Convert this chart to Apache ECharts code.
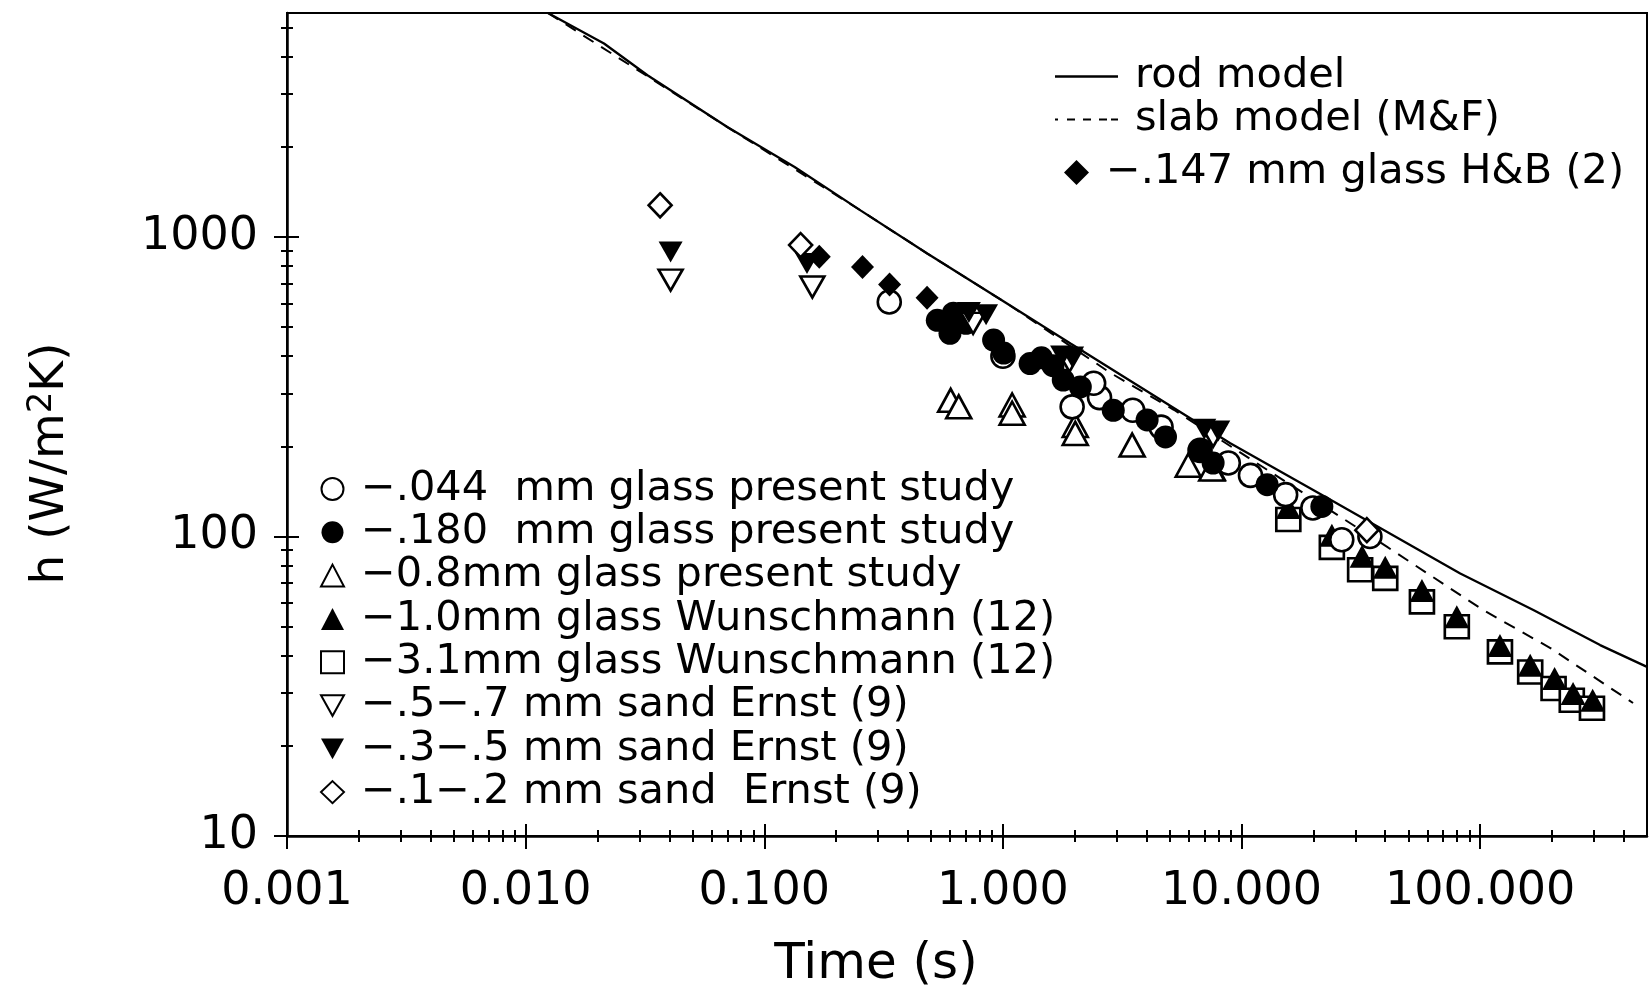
<!DOCTYPE html>
<html><head><meta charset="utf-8">
<script src="https://cdn.jsdelivr.net/npm/echarts@6/dist/echarts.min.js"></script>
<style>html,body{margin:0;padding:0;background:#fff}#c{width:1649px;height:990px}</style>
</head><body><div id="c"></div>
<script>
// ---------- data (time in s, h in W/m2K) ----------
const xMajorTicks = [0.001, 0.01, 0.1, 1, 10, 100];
const xMinorTicks = [0.002,0.003,0.004,0.005,0.006,0.007,0.008,0.009,
  0.02,0.03,0.04,0.05,0.06,0.07,0.08,0.09,
  0.2,0.3,0.4,0.5,0.6,0.7,0.8,0.9,
  2,3,4,5,6,7,8,9,
  20,30,40,50,60,70,80,90,
  200,300,400];
const yMajorTicks = [10, 100, 1000];
const yMinorTicks = [20,30,40,50,60,70,80,90,200,300,400,500,600,700,800,900,2000,3000,4000,5000];

const rodModel = [[0.0124,5600],[0.0213,4430],[0.0324,3470],[0.070,2330],[0.134,1714],[0.253,1228],
  [0.482,881],[1.04,600],[1.92,441],[8.97,205],[24.3,131],[82.5,75.3],[167,56.8],[318,43.4],[500,36.7]];
const slabModel = [[0.0124,5600],[0.070,2330],[0.253,1228],[0.482,881],[1.04,600],[2.82,352],[5.2,265],
  [40.6,92.5],[103,56.8],[196,42.5],[437,27.8]];

const hb147 = [[0.170,859],[0.258,795],[0.335,695],[0.481,627]];
const glass044 = [[0.334,607],[1.0,400],[1.95,271],[2.54,291],[2.4,325],[3.5,264],[4.6,232],[6.7,194],
  [8.8,176],[10.9,160],[15.3,138],[19.9,124.6],[26.3,97.5],[34.5,100]];
const glass180 = [[0.531,527],[0.62,557],[0.60,477],[0.70,515],[0.914,453],[1.007,410],[1.30,378],[1.45,395],
  [1.62,372],[1.79,333],[2.11,316],[2.9,264],[4.02,245],[4.8,215],[6.72,194],[7.6,176],[12.8,149],[21.7,126]];
const glass08 = [[0.604,285],[0.653,271],[1.093,275],[1.093,258],[2.01,235],[2.01,221],[3.48,202],[5.98,173],[7.5,168]];
const glass10 = [[7.7,167],[15.7,125],[23.9,101],[32,86],[40,79],[57,66],[79.8,54],[121,43.3],[162,37.2],[205,33.6],[245,29.9],[296,28.4]];
const glass31 = [[15.7,114],[23.9,92],[31.4,77.5],[40,72.5],[57,60.5],[79.8,50],[121,41.2],[162,35.3],[203,31.1],[242,28.4],[294,26.7]];
const sand57 = [[0.0405,718],[0.159,681],[0.75,515],[1.9,385],[7.6,216]];
const sand35 = [[0.0405,891],[0.151,816],[0.72,560],[0.85,550],[1.77,401],[1.95,398],[6.98,228],[7.99,225]];
const sand12 = [[0.0366,1277],[0.142,940],[33.5,105]];

const names = {
  rod: 'rod model', slab: 'slab model (M&F)', hb: '\u2212.147 mm glass H&B (2)',
  g044: '\u2212.044  mm glass present study', g180: '\u2212.180  mm glass present study',
  g08: '\u22120.8mm glass present study', g10: '\u22121.0mm glass Wunschmann (12)',
  g31: '\u22123.1mm glass Wunschmann (12)', s57: '\u2212.5\u2212.7 mm sand Ernst (9)',
  s35: '\u2212.3\u2212.5 mm sand Ernst (9)', s12: '\u2212.1\u2212.2 mm sand  Ernst (9)'
};

// ---------- styling ----------
const FONT = 'DejaVu Sans';
const X_MIN = 0.001, X_MAX = 500, Y_MIN = 10, Y_MAX = 5600;
const INV_TRI = 'path://M0,0L20,0L10,18Z';
const SOLID_LINE_ICON = 'path://M0,0h63v2.4h-63z';
const DASH_LINE_ICON = 'path://M0,0h3v2h-3z M12,0h8v2h-8z M28,0h8v2h-8z M44,0h8v2h-8z M56,0h7v2h-7z';
const hollow = {color:'#fff', borderColor:'#000', borderWidth:2.6, opacity:1};
const solid = {color:'#000', borderColor:'#000', borderWidth:0, opacity:1};

function xAxisDef(ticks, len, inside, main) {
  return {
    type:'log', logBase:10, min:X_MIN, max:X_MAX, position:'bottom', gridIndex:0,
    splitLine:{show:false},
    axisLine:{show:!!main, lineStyle:{color:'#000', width:2.5}},
    axisTick:{show:true, inside:inside, length:len, customValues:ticks, lineStyle:{color:'#000', width:2}},
    axisLabel:main ? {show:true, customValues:xMajorTicks, margin:33, color:'#000',
      fontFamily:FONT, fontSize:46, formatter:v => Number(v).toFixed(3)} : {show:false},
    name: main ? 'Time (s)' : '', nameLocation:'middle', nameGap:104,
    nameTextStyle:{fontFamily:FONT, fontSize:50, color:'#000', padding:[0,182,0,0]}
  };
}
function yAxisDef(ticks, len, inside, main) {
  return {
    type:'log', logBase:10, min:Y_MIN, max:Y_MAX, position:'left', gridIndex:0,
    splitLine:{show:false},
    axisLine:{show:!!main, lineStyle:{color:'#000', width:2.5}},
    axisTick:{show:true, inside:inside, length:len, customValues:ticks, lineStyle:{color:'#000', width:2}},
    axisLabel:main ? {show:true, customValues:yMajorTicks, margin:29, color:'#000',
      fontFamily:FONT, fontSize:46, formatter:v => String(Math.round(v))} : {show:false},
    name: main ? '{n|h (W/m}{s|2}{n|K)}' : '', nameLocation:'middle', nameGap:210, nameRotate:90,
    nameTextStyle:{color:'#000', padding:[0,78,0,0], rich:{
      n:{fontFamily:FONT, fontSize:47, color:'#000', lineHeight:52},
      s:{fontFamily:FONT, fontSize:34, color:'#000', verticalAlign:'top', lineHeight:34}
    }}
  };
}

function scatter(name, data, symbol, size, style) {
  return {type:'scatter', name:name, data:data, symbol:symbol, symbolSize:size,
    itemStyle:style, xAxisIndex:0, yAxisIndex:0, z:3, emphasis:{disabled:true}};
}

const chart = echarts.init(document.getElementById('c'), null, {renderer:'canvas'});
const legendTextTop = {fontFamily:FONT, fontSize:41.5, color:'#000', lineHeight:43, padding:[0,0,0,12]};
const legendTextLow = {fontFamily:FONT, fontSize:41.5, color:'#000', lineHeight:42, padding:[0,0,0,12]};
chart.setOption({
  animation:false,
  backgroundColor:'#fff',
  grid:{left:287, right:2, top:13, bottom:154, show:true, borderColor:'#000', borderWidth:2,
    containLabel:false, outerBoundsMode:'none'},
  xAxis:[
    xAxisDef(xMajorTicks, 13, false, true),
    xAxisDef(xMajorTicks, 12, true, false),
    xAxisDef(xMinorTicks, 6, false, false),
    xAxisDef(xMinorTicks, 6, true, false)
  ],
  yAxis:[
    yAxisDef(yMajorTicks, 13, false, true),
    yAxisDef(yMajorTicks, 12, true, false),
    yAxisDef(yMinorTicks, 6, false, false),
    yAxisDef(yMinorTicks, 6, true, false)
  ],
  legend:[
    {data:[{name:names.rod, icon:SOLID_LINE_ICON, itemStyle:{color:'#000', opacity:1}},
           {name:names.slab, icon:DASH_LINE_ICON, itemStyle:{color:'#000', opacity:1}}],
      orient:'vertical', left:1055, top:55, padding:0,
      itemWidth:63, itemHeight:3, itemGap:0, selectedMode:false, textStyle:legendTextTop},
    {data:[names.hb], orient:'vertical', left:1064, top:151, padding:0,
      itemWidth:25, itemHeight:25, itemGap:0, selectedMode:false, textStyle:legendTextTop},
    {data:[names.g044, names.g180, names.g08, names.g10, names.g31, names.s57, names.s35, names.s12],
      orient:'vertical', left:320, top:468, padding:0, itemWidth:23, itemHeight:22, itemGap:1.3,
      selectedMode:false, textStyle:legendTextLow}
  ],
  series:[
    {type:'line', name:names.rod, data:rodModel, symbol:'none', z:2,
      lineStyle:{color:'#000', width:2.3, type:'solid'}, itemStyle:{color:'#000'}},
    {type:'line', name:names.slab, data:slabModel, symbol:'none', z:2,
      lineStyle:{color:'#000', width:2, type:[12,9]}, itemStyle:{color:'#000'}},
    scatter(names.g31, glass31, 'rect', [24,23], hollow),
    scatter(names.g10, glass10, 'triangle', [25,23], solid),
    scatter(names.g08, glass08, 'triangle', [25,23], hollow),
    scatter(names.g044, glass044, 'circle', 23, hollow),
    scatter(names.g180, glass180, 'circle', 23, solid),
    scatter(names.s57, sand57, INV_TRI, [24,21], hollow),
    scatter(names.s35, sand35, INV_TRI, [24,21], solid),
    scatter(names.s12, sand12, 'diamond', [23,24], hollow),
    scatter(names.hb, hb147, 'diamond', [23,24], solid)
  ]
});
</script></body></html>
